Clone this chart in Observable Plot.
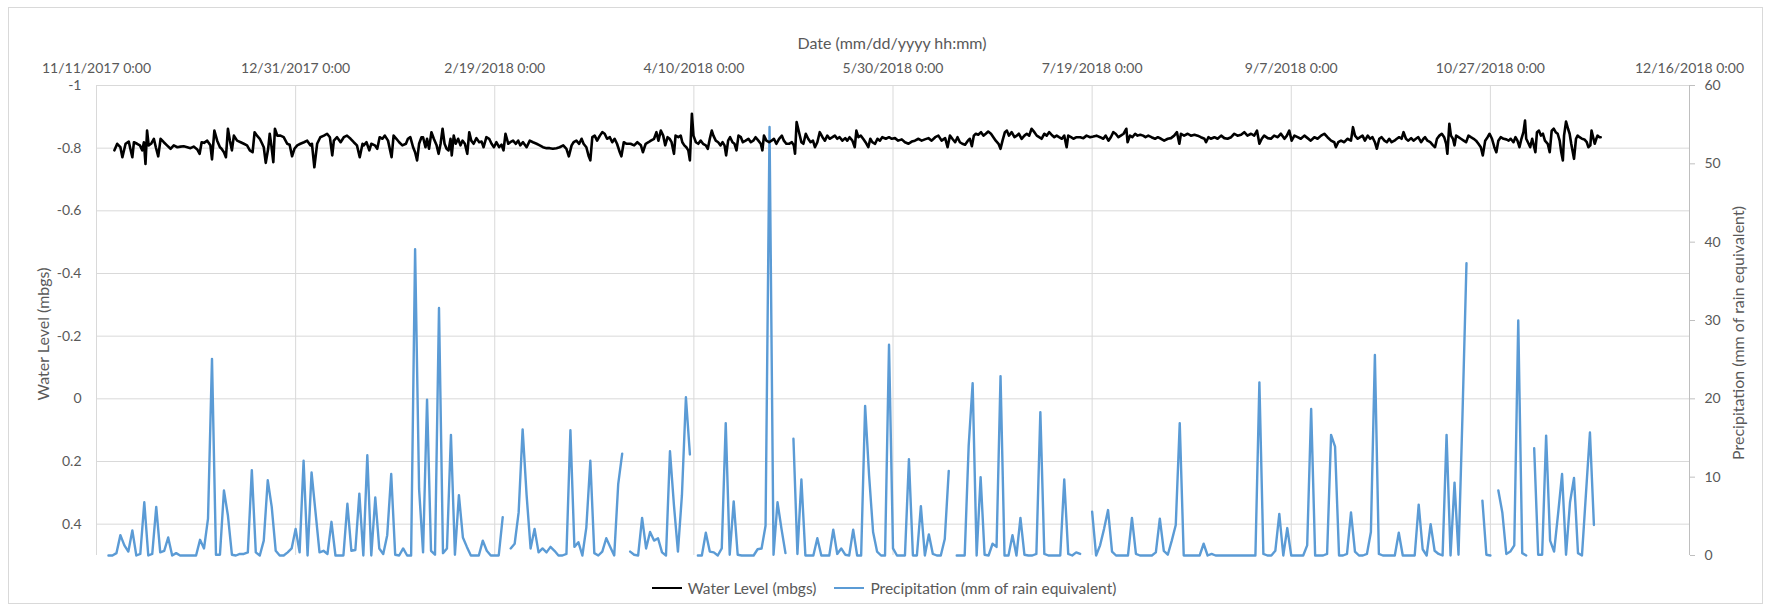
<!DOCTYPE html>
<html>
<head>
<meta charset="utf-8">
<script src="https://cdn.jsdelivr.net/npm/d3@7"></script>
<script src="https://cdn.jsdelivr.net/npm/@observablehq/plot@0.6"></script>
<style>
  html, body { margin: 0; padding: 0; background: #fff; }
  #wrap { position: relative; width: 1768px; height: 610px; font-family: Lato, "Open Sans", sans-serif; color: #595959; }
  #frame { position: absolute; left: 8px; top: 7px; width: 1755px; height: 597px; border: 1px solid #d9d9d9; box-sizing: border-box; }
  #chart { position: absolute; left: 0; top: 0; }
  .lbl { position: absolute; font-size: 16px; white-space: nowrap; }
  #xtitle { left: 892px; top: 42px; transform: translate(-50%, -50%); }
  #yltitle { left: 42px; top: 334px; transform: translate(-50%, -50%) rotate(-90deg); }
  #yrtitle { left: 1737px; top: 333px; transform: translate(-50%, -50%) rotate(-90deg); }
  #legend { position: absolute; left: 0; width: 1768px; top: 579px; display: flex; justify-content: center; align-items: center; font-size: 15.5px; }
  .sw { display: inline-block; width: 30px; height: 2.5px; margin-right: 6px; }
  .item { display: flex; align-items: center; margin: 0 9px; }
</style>
</head>
<body>
<div id="wrap">
  <div id="frame"></div>
  <div id="chart"></div>
  <div class="lbl" id="xtitle"></div>
  <div class="lbl" id="yltitle"></div>
  <div class="lbl" id="yrtitle"></div>
  <div id="legend"></div>
</div>
<script>
// ---------- text ----------
const xTitle = "Date (mm/dd/yyyy hh:mm)";
const yLeftTitle = "Water Level (mbgs)";
const yRightTitle = "Precipitation (mm of rain equivalent)";
const seriesNames = ["Water Level (mbgs)", "Precipitation (mm of rain equivalent)"];
const seriesColors = ["#000000", "#5B9BD5"];

// ---------- axes ----------
const dateStart = "2017-11-11";
const dateEnd = "2018-12-16";
const dateTicks = ["2017-11-11","2017-12-31","2018-02-19","2018-04-10","2018-05-30","2018-07-19","2018-09-07","2018-10-27","2018-12-16"];
const waterTicks = [-1, -0.8, -0.6, -0.4, -0.2, 0, 0.2, 0.4];
const waterDomain = [-1, 0.5];
const precipTicks = [0, 10, 20, 30, 40, 50, 60];
const precipDomain = [0, 60];

// ---------- data ----------
// Water level (mbgs): [days since 2017-11-11 0:00, level]
const waterLevel = [
[4.5,-0.793],[5.2,-0.814],[6.0,-0.803],[6.5,-0.771],[7.3,-0.814],[8.1,-0.821],[8.5,-0.798],[9.0,-0.771],[9.4,-0.819],[10.2,-0.814],
[10.9,-0.809],[11.5,-0.793],[11.9,-0.819],[12.3,-0.750],[12.7,-0.856],[13.1,-0.809],[13.7,-0.814],[14.4,-0.830],[14.9,-0.803],[15.5,-0.774],
[16.1,-0.830],[16.9,-0.819],[17.7,-0.809],[18.6,-0.798],[19.4,-0.809],[20.3,-0.803],[21.1,-0.805],[21.9,-0.806],[22.8,-0.803],[23.6,-0.800],
[24.4,-0.805],[25.3,-0.796],[25.9,-0.782],[26.4,-0.819],[27.0,-0.817],[27.8,-0.824],[28.6,-0.809],[29.0,-0.764],[29.6,-0.856],[30.3,-0.824],
[31.0,-0.803],[31.4,-0.798],[32.0,-0.787],[32.5,-0.771],[33.0,-0.862],[33.5,-0.824],[34.0,-0.793],[34.5,-0.840],[35.3,-0.824],[36.2,-0.819],
[37.0,-0.814],[37.8,-0.809],[38.5,-0.793],[39.2,-0.787],[39.7,-0.851],[40.3,-0.840],[41.0,-0.830],[41.6,-0.814],[42.0,-0.803],[42.5,-0.753],
[43.1,-0.798],[43.5,-0.846],[43.9,-0.809],[44.4,-0.755],[44.8,-0.862],[45.4,-0.840],[46.2,-0.840],[47.0,-0.835],[47.9,-0.814],[48.5,-0.811],
[49.1,-0.774],[49.7,-0.798],[50.4,-0.809],[51.2,-0.814],[52.1,-0.819],[52.9,-0.824],[53.7,-0.809],[54.1,-0.814],[54.7,-0.739],[55.4,-0.814],
[56.2,-0.835],[57.1,-0.840],[57.9,-0.846],[58.6,-0.835],[59.2,-0.777],[59.6,-0.824],[60.4,-0.835],[61.3,-0.819],[62.1,-0.835],[62.9,-0.840],
[63.8,-0.830],[64.6,-0.819],[65.4,-0.809],[66.1,-0.771],[66.8,-0.814],
[67.1,-0.809],[67.8,-0.819],[68.5,-0.793],[69.0,-0.814],[69.9,-0.809],[70.5,-0.798],[71.1,-0.835],[71.8,-0.830],[72.4,-0.840],[73.2,-0.824],
[74.1,-0.771],[74.6,-0.840],[75.3,-0.830],[76.0,-0.819],[76.8,-0.809],[77.7,-0.814],[78.2,-0.830],[78.8,-0.835],[79.5,-0.803],[80.0,-0.787],
[80.5,-0.761],[81.0,-0.814],[81.6,-0.835],[82.0,-0.835],[82.6,-0.803],[83.0,-0.830],[83.5,-0.798],[84.1,-0.851],[84.7,-0.830],[85.4,-0.809],
[85.9,-0.782],[86.4,-0.814],[86.9,-0.862],[87.4,-0.814],[87.9,-0.798],[88.4,-0.793],[88.9,-0.830],[89.2,-0.777],[89.7,-0.840],[90.2,-0.814],
[90.8,-0.830],[91.4,-0.809],[91.9,-0.824],[92.5,-0.814],[93.1,-0.782],[93.6,-0.851],[94.1,-0.824],[94.7,-0.814],[95.4,-0.832],[96.1,-0.819],
[96.7,-0.821],[97.2,-0.803],[97.9,-0.835],[98.6,-0.830],[99.2,-0.814],[99.8,-0.803],[100.4,-0.819],[101.1,-0.803],[101.7,-0.811],[102.2,-0.793],
[102.7,-0.846],[103.4,-0.814],[103.9,-0.819],[104.6,-0.824],[105.3,-0.814],[105.9,-0.824],[106.4,-0.809],[107.1,-0.819],[108.0,-0.803],[108.8,-0.824],
[109.6,-0.819],[110.5,-0.814],[111.3,-0.809],[112.1,-0.803],[113.0,-0.800],[113.8,-0.800],[114.6,-0.798],[115.5,-0.800],[116.3,-0.803],[117.2,-0.809],
[118.0,-0.798],[118.6,-0.774],[119.3,-0.809],[119.8,-0.819],[120.5,-0.824],[121.2,-0.814],[121.8,-0.830],[122.3,-0.814],[123.0,-0.803],[123.6,-0.774],
[124.0,-0.761],[124.5,-0.835],[125.1,-0.840],[125.7,-0.824],[126.4,-0.840],[127.0,-0.851],[127.6,-0.846],[128.2,-0.830],[128.9,-0.835],[129.5,-0.819],
[130.1,-0.830],[130.7,-0.814],[131.4,-0.787],[131.8,-0.774],[132.4,-0.819],[133.1,-0.814],
[134.1,-0.814],[135.0,-0.809],[135.8,-0.819],[136.7,-0.809],[137.2,-0.787],[137.9,-0.814],[138.6,-0.819],[139.2,-0.824],[140.0,-0.830],[140.6,-0.851],
[141.1,-0.824],[141.7,-0.856],[142.3,-0.840],[142.8,-0.809],[143.4,-0.835],[143.9,-0.830],[144.4,-0.819],[145.0,-0.782],[145.4,-0.840],[146.1,-0.835],
[146.7,-0.840],[147.1,-0.819],[147.6,-0.809],[148.1,-0.803],[148.6,-0.793],[149.0,-0.761],[149.5,-0.910],[149.9,-0.840],[150.5,-0.819],[151.1,-0.814],
[151.7,-0.824],[152.3,-0.814],[153.0,-0.809],[153.5,-0.798],[154.0,-0.830],[154.5,-0.856],[154.9,-0.840],[155.5,-0.824],[156.1,-0.819],[156.7,-0.809],
[157.2,-0.819],[157.7,-0.809],[158.1,-0.777],[158.6,-0.824],[159.1,-0.835],[159.7,-0.819],[160.2,-0.814],[160.7,-0.793],[161.2,-0.840],[161.8,-0.835],
[162.3,-0.819],[163.0,-0.824],[163.7,-0.830],[164.3,-0.819],[164.9,-0.824],[165.5,-0.835],[166.2,-0.824],[166.8,-0.814],[167.2,-0.793],[167.6,-0.840],
[168.2,-0.824],[168.9,-0.819],[169.5,-0.824],[170.1,-0.830],[170.7,-0.814],[171.4,-0.830],[172.1,-0.840],[172.6,-0.824],[173.2,-0.814],[173.9,-0.814],
[174.6,-0.819],[175.1,-0.809],[175.4,-0.782],[175.8,-0.883],[176.4,-0.851],[177.0,-0.819],[177.5,-0.814],[178.1,-0.846],[178.7,-0.830],[179.3,-0.819],
[179.9,-0.824],[180.4,-0.803],[181.0,-0.819],[181.6,-0.851],[182.3,-0.835],[182.9,-0.824],[183.5,-0.840],[184.1,-0.830],[184.8,-0.835],[185.4,-0.840],
[186.0,-0.830],[186.6,-0.835],[187.3,-0.824],[188.0,-0.832],[188.5,-0.824],[189.1,-0.835],[189.8,-0.824],[190.4,-0.803],[190.8,-0.856],[191.3,-0.835],
[191.9,-0.840],[192.5,-0.830],[193.1,-0.819],[193.8,-0.803],[194.3,-0.830],[194.8,-0.819],[195.5,-0.814],[196.1,-0.830],[196.7,-0.824],[197.3,-0.835],
[198.2,-0.830],[199.0,-0.835],
[199.7,-0.830],[200.5,-0.832],[201.3,-0.824],[202.2,-0.828],[203.0,-0.819],[203.9,-0.814],[204.7,-0.821],[205.5,-0.824],[206.4,-0.830],[207.2,-0.824],
[208.0,-0.828],[208.9,-0.832],[209.7,-0.824],[210.6,-0.835],[211.4,-0.840],[212.2,-0.824],[213.1,-0.832],[213.7,-0.803],[214.3,-0.840],[214.9,-0.830],
[215.6,-0.819],[216.2,-0.835],[216.8,-0.819],[217.4,-0.814],[218.1,-0.811],[218.8,-0.824],[219.3,-0.830],[219.8,-0.806],[220.3,-0.840],[220.8,-0.846],
[221.4,-0.843],[222.1,-0.851],[222.7,-0.840],[223.3,-0.846],[223.9,-0.853],[224.6,-0.846],[225.2,-0.835],[225.8,-0.824],[226.5,-0.814],[227.0,-0.798],
[227.5,-0.824],[228.1,-0.851],[228.6,-0.856],[229.1,-0.840],[229.8,-0.851],[230.5,-0.835],[231.1,-0.840],[231.6,-0.846],[232.3,-0.830],[233.0,-0.840],
[233.6,-0.846],[234.2,-0.840],[234.8,-0.862],[235.5,-0.851],[236.1,-0.840],[236.7,-0.835],[237.3,-0.830],[238.0,-0.846],[238.6,-0.840],[239.2,-0.851],
[239.8,-0.843],[240.5,-0.835],[241.1,-0.840],[241.7,-0.835],[242.4,-0.830],[243.0,-0.840],[243.6,-0.803],[244.0,-0.840],[244.7,-0.835],[245.3,-0.830],
[246.1,-0.835],[247.0,-0.835],[247.8,-0.832],[248.6,-0.840],[249.5,-0.835],[250.3,-0.837],[251.1,-0.840],[252.0,-0.835],[252.8,-0.830],[253.4,-0.840],
[254.1,-0.824],[254.7,-0.835],[255.3,-0.851],[255.9,-0.846],[256.6,-0.835],[257.2,-0.840],[257.9,-0.846],[258.6,-0.862],[258.9,-0.819],[259.5,-0.840],
[260.1,-0.835],[260.8,-0.846],[261.4,-0.840],[262.1,-0.843],[262.8,-0.840],[263.4,-0.835],[264.1,-0.840],[264.9,-0.835],[265.8,-0.830],[266.5,-0.835],
[267.3,-0.830],[268.1,-0.824],[269.0,-0.830],[269.8,-0.832],[270.6,-0.840],[271.3,-0.851],[271.9,-0.814],[272.3,-0.846],[273.1,-0.840],[274.0,-0.846],
[274.8,-0.840],[275.7,-0.843],[276.5,-0.840],[277.3,-0.835],[278.2,-0.830],[278.6,-0.819],[279.2,-0.835],[279.8,-0.830],[280.7,-0.835],[281.5,-0.830],
[282.4,-0.840],[283.2,-0.832],[284.0,-0.830],[284.9,-0.835],[285.7,-0.846],[286.5,-0.840],[287.4,-0.843],[288.2,-0.851],[289.0,-0.840],[289.9,-0.846],
[290.7,-0.840],[291.4,-0.856],[292.0,-0.814],[292.6,-0.830],[293.2,-0.840],[294.1,-0.832],[294.9,-0.830],[295.7,-0.840],[296.6,-0.835],[297.4,-0.846],
[298.3,-0.830],[298.9,-0.840],[299.5,-0.856],[300.1,-0.824],[300.8,-0.840],[301.6,-0.835],[302.4,-0.830],[303.3,-0.840],[304.1,-0.832],[304.9,-0.824],
[305.8,-0.835],[306.6,-0.830],[307.5,-0.840],[308.3,-0.846],[309.1,-0.835],[310.0,-0.824],[310.8,-0.819],[311.2,-0.803],[311.8,-0.819],[312.5,-0.824],
[313.3,-0.819],[314.1,-0.830],[315.0,-0.824],[315.5,-0.867],[316.0,-0.840],[316.7,-0.830],[317.3,-0.835],[317.9,-0.840],[318.5,-0.824],[319.2,-0.840],
[319.8,-0.830],[320.4,-0.835],[321.0,-0.819],[321.5,-0.798],[322.1,-0.830],[322.7,-0.835],[323.4,-0.824],[324.0,-0.819],[324.6,-0.830],[325.2,-0.819],
[325.9,-0.824],[326.5,-0.830],[327.1,-0.835],[327.7,-0.830],[328.2,-0.851],[328.8,-0.830],[329.4,-0.824],[330.1,-0.832],[330.7,-0.824],[331.3,-0.830],
[331.9,-0.835],[332.6,-0.819],[333.2,-0.830],
[333.6,-0.835],[334.2,-0.824],[334.9,-0.819],[335.6,-0.809],[336.1,-0.803],[336.6,-0.830],[337.2,-0.840],[337.8,-0.846],[338.4,-0.835],[338.9,-0.814],
[339.2,-0.782],[339.7,-0.878],[340.1,-0.840],[340.6,-0.830],[341.0,-0.809],[341.4,-0.840],[342.0,-0.835],[342.6,-0.830],[343.3,-0.824],[343.9,-0.819],
[344.5,-0.840],[345.1,-0.835],[345.8,-0.830],[346.4,-0.824],[347.0,-0.814],[347.6,-0.803],[348.1,-0.777],[348.7,-0.824],[349.3,-0.835],[349.8,-0.846],
[350.4,-0.830],[351.0,-0.803],[351.5,-0.787],[352.0,-0.824],[352.6,-0.835],[353.3,-0.830],[354.0,-0.828],[354.6,-0.824],[355.1,-0.830],[355.8,-0.819],
[356.3,-0.835],[356.8,-0.824],[357.3,-0.803],[357.8,-0.830],[358.3,-0.851],[358.7,-0.888],[359.0,-0.830],[359.6,-0.814],[360.0,-0.803],[360.5,-0.830],
[360.8,-0.814],[361.3,-0.787],[361.7,-0.851],[362.2,-0.856],[362.7,-0.840],[363.2,-0.846],[363.7,-0.824],[364.4,-0.814],[364.9,-0.787],[365.4,-0.856],
[365.9,-0.862],[366.4,-0.851],[366.9,-0.846],[367.4,-0.824],[367.8,-0.787],[368.2,-0.761],[368.5,-0.840],[369.0,-0.885],[369.5,-0.862],[369.9,-0.846],
[370.3,-0.814],[370.7,-0.787],[371.0,-0.766],[371.5,-0.830],[371.9,-0.840],[372.4,-0.835],[373.0,-0.830],[373.6,-0.828],[374.2,-0.819],[374.6,-0.803],
[375.1,-0.809],[375.4,-0.856],[375.7,-0.840],[376.2,-0.814],[376.6,-0.830],[376.9,-0.840],[377.4,-0.835],[377.7,-0.835]
];

// Daily precipitation (mm of rain equivalent), one value per day from precipStart; null = no record
const precipStart = "2017-11-14";
const precipitation = [
0,0,0.3,2.6,1.3,0.5,3.2,0,0.2,6.8,
0,0.2,6.2,0.4,0.6,2.3,0,0.3,0,0,
0,0,0,2.0,0.9,4.7,25.1,0.1,0.1,8.3,
5.1,0.1,0,0.2,0.2,0.4,10.9,0.4,0,1.9,
9.6,6.2,0.6,0,0,0.4,0.9,3.4,0.4,12.1,
0,10.6,5.5,0.4,0.6,0.2,4.3,0,0,0,
6.6,0.6,0.7,7.9,0,12.8,0,7.4,0.9,0.2,
2.6,10.4,0.1,0,0.9,0,0,39.1,8.5,0.4,
19.9,0.6,0.1,31.6,0.3,0.9,15.4,0.1,7.7,2.3,
1.1,0,0,0,1.9,0.6,0,0,0,4.9,
null,0.9,1.5,5.5,16.1,7.7,0.9,3.4,0.4,0.9,
0.4,1.1,0.6,0,0,0.2,16.0,1.1,1.7,0,
3.6,12.1,0.3,0,0.5,2.2,1.1,0,9.1,13.0,
null,0.5,0.1,0,4.8,0.9,3.0,1.9,2.2,0.4,
0,13.3,6.4,0.5,7.7,20.2,12.9,null,0,0,
2.9,0.5,0.4,0,0.9,16.9,0.1,6.9,0.1,0,
0,0,0,0.8,0.9,3.8,54.7,0.1,6.8,3.4,
0.3,null,14.9,0.2,9.7,0,0,0,2.2,0,
0,0,3.3,0.2,0.9,0.1,0,3.3,0,0,
19.1,10.2,3.0,0.5,0,0,26.9,0.9,0,0,
0,12.3,0,0,6.3,0,2.7,0.2,0,0,
2.1,10.8,null,0,0,0,14.0,22.0,0,10.0,
0.1,0,1.5,1.1,22.9,0,0,2.6,0,4.8,
0.1,0,0,0.2,18.3,0.2,0,0,0,0,
9.7,0.2,0,0.4,0.2,null,null,5.6,0,1.3,
3.4,5.8,0.5,0,0,0,0,4.8,0.2,0,
0,0,0,0.4,4.7,0.6,0.1,1.9,3.9,16.9,
0,0,0,0,0,1.5,0,0.2,0,0,
0,0,0,0,0,0,0,0,0,22.1,
0.2,0,0,0.6,5.3,0,3.5,0,0,0,
0,1.3,18.7,0,0,0,0.2,15.4,13.9,0,
0,0.2,5.5,0.5,0,0,0.2,3.0,25.6,0.2,
0,0,0,0,2.9,0,0,0,0,6.5,
0.8,0,4.0,0.6,0.2,0,15.4,0,9.3,0.1,
18.0,37.3,null,null,null,7.0,0.1,0,null,8.3,
5.5,0.2,0.5,1.3,30.0,0.3,0,null,13.7,0.1,
0.1,15.3,1.9,0.5,5.3,10.4,0.1,6.8,9.9,0.3,
0,7.9,15.7,3.9
];

// ---------- build ----------
const DAY = 864e5;
const t0 = new Date(dateStart).getTime();
const p0 = new Date(precipStart).getTime();
const wlData = waterLevel.map(([d, v]) => ({date: new Date(t0 + d * DAY), value: v}));
const prData = precipitation.map((v, i) => ({date: new Date(p0 + i * DAY), value: v}));

// secondary axis: map precipitation onto the water-level scale (0 -> bottom, 60 -> top)
const toY = p => waterDomain[1] - (p - precipDomain[0]) * (waterDomain[1] - waterDomain[0]) / (precipDomain[1] - precipDomain[0]);

const fmtDate = d => `${d.getUTCMonth() + 1}/${d.getUTCDate()}/${d.getUTCFullYear()} 0:00`;
const xTickDates = dateTicks.map(s => new Date(s));

const chart = Plot.plot({
  width: 1768,
  height: 610,
  marginLeft: 96,
  marginRight: 79,
  marginTop: 85,
  marginBottom: 55,
  style: {fontFamily: 'Lato, "Open Sans", sans-serif', fontSize: "14px", color: "#595959", background: "transparent", overflow: "visible"},
  x: {type: "utc", domain: [new Date(dateStart), new Date(dateEnd)]},
  y: {domain: waterDomain, reverse: true},
  marks: [
    Plot.gridX(xTickDates, {stroke: "#d9d9d9", strokeOpacity: 1, strokeWidth: 1}),
    Plot.gridY(waterTicks, {stroke: "#d9d9d9", strokeOpacity: 1, strokeWidth: 1}),
    Plot.ruleX([new Date(dateEnd)], {stroke: "#bfbfbf", strokeWidth: 1}),
    Plot.axisX(xTickDates, {anchor: "top", tickSize: 0, tickPadding: 13, tickFormat: fmtDate, label: null}),
    Plot.axisY(waterTicks, {anchor: "left", tickSize: 0, tickPadding: 15, tickFormat: d => String(d), label: null}),
    Plot.axisY(precipTicks, {y: toY, anchor: "right", tickSize: 5, tickPadding: 10, stroke: "#bfbfbf", tickFormat: d => String(d), label: null}),
    Plot.line(prData, {x: "date", y: d => d.value == null ? NaN : toY(d.value), stroke: seriesColors[1], strokeWidth: 2.4}),
    Plot.line(wlData, {x: "date", y: "value", stroke: seriesColors[0], strokeWidth: 2.6})
  ]
});
document.getElementById("chart").appendChild(chart);

document.getElementById("xtitle").textContent = xTitle;
document.getElementById("yltitle").textContent = yLeftTitle;
document.getElementById("yrtitle").textContent = yRightTitle;

const legend = document.getElementById("legend");
seriesNames.forEach((name, i) => {
  const item = document.createElement("div");
  item.className = "item";
  const sw = document.createElement("span");
  sw.className = "sw";
  sw.style.background = seriesColors[i];
  const tx = document.createElement("span");
  tx.textContent = name;
  item.appendChild(sw);
  item.appendChild(tx);
  legend.appendChild(item);
});
</script>
</body>
</html>
